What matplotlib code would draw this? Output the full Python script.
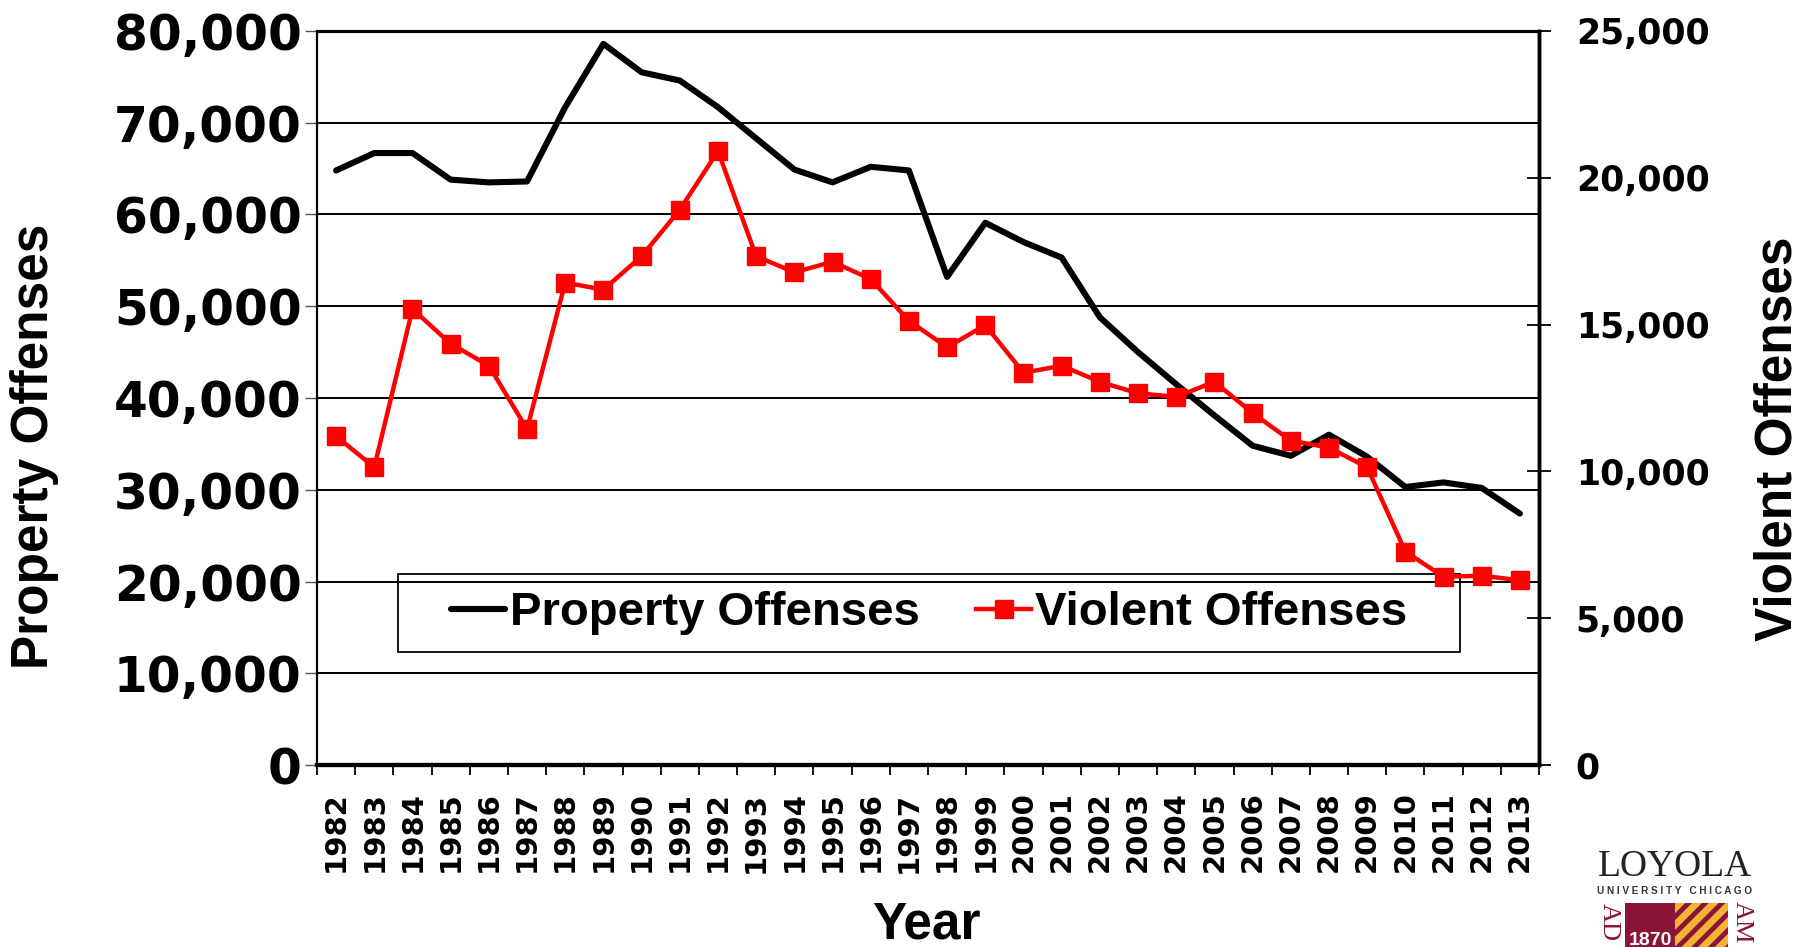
import numpy as np
import matplotlib
matplotlib.use('Agg')
import matplotlib.pyplot as plt
from matplotlib.patches import Rectangle

# data
years = [str(y) for y in range(1982, 2014)]
property_offenses = [64800, 66700, 66700, 63800, 63500, 63600, 71700, 78600,
                     75500, 74600, 71700, 68300, 64900, 63500, 65200, 64800,
                     53200, 59100, 57000, 55300, 48800, 45000, 41500, 38100,
                     34800, 33700, 36000, 33600, 30300, 30800, 30200, 27400]
violent_offenses = [11200, 10140, 15530, 14350, 13600, 11440, 16430, 16190,
                    17330, 18910, 20910, 17330, 16780, 17140, 16550, 15130,
                    14230, 14980, 13360, 13600, 13050, 12660, 12540, 13050,
                    11990, 11050, 10810, 10140, 7270, 6410, 6450, 6290]
left_ticks = list(range(0, 80001, 10000))
right_ticks = list(range(0, 25001, 5000))

W, H = 1810, 947
fig = plt.figure(figsize=(W / 100, H / 100), dpi=100)

ax = fig.add_axes([317 / W, 1 - 765 / H, 1222 / W, 734 / H])
ax2 = ax.twinx()

x = np.arange(len(years))
l1, = ax.plot(x, property_offenses, color='black', lw=4.4,
              solid_joinstyle='round', solid_capstyle='round',
              label='Property Offenses', zorder=3)
l2, = ax2.plot(x, violent_offenses, color='#ff0000', lw=3.2, marker='s',
               markersize=13, label='Violent Offenses', zorder=3)

ax.set_xlim(-0.5, len(years) - 0.5)
ax.set_ylim(0, 80000)
ax2.set_ylim(0, 25000)

tick_font = dict(family='DejaVu Sans', weight='bold')

ax.set_yticks(left_ticks)
ax.set_yticklabels([f'{v:,}' for v in left_ticks], fontsize=35, **tick_font)
ax.tick_params(axis='y', length=9, width=1, color='#555555', pad=2)
ax.grid(axis='y', color='black', lw=1.4)
ax.set_axisbelow(True)

ax.set_xticks(x)
ax.set_xticklabels(years, rotation=90, fontsize=21, **tick_font)
ax.tick_params(axis='x', which='major', length=0, pad=19)
ax.set_xticks(np.arange(-0.5, len(years), 1), minor=True)
ax.tick_params(axis='x', which='minor', length=7, width=1.3, direction='out')

ax2.set_yticks(right_ticks)
ax2.set_yticklabels([f'{v:,}' for v in right_ticks], fontsize=25, **tick_font)
ax2.tick_params(axis='y', direction='inout', length=17, width=1.3, pad=18)

for a in (ax, ax2):
    a.spines['left'].set_linewidth(1.5)
    a.spines['bottom'].set_linewidth(3)
    a.spines['top'].set_linewidth(2.2)
    a.spines['right'].set_linewidth(2.5)

label_font = dict(family='Liberation Sans', weight='bold', fontsize=37)
fig.text(35 / W, 1 - 446 / H, 'Property Offenses', rotation=90,
         ha='center', va='center', **label_font)
fig.text(1778 / W, 1 - 439 / H, 'Violent Offenses', rotation=90,
         ha='center', va='center', **label_font)
fig.text(926 / W, 1 - 938 / H, 'Year', ha='center', va='baseline', **label_font)

# legend box
ax2.add_patch(Rectangle((81 / 1222, 113 / 734), 1062 / 1222, 78 / 734,
                        transform=ax2.transAxes, fill=False, ec='black',
                        lw=1.3, zorder=2))
ax2.legend([l1, l2], ['Property Offenses', 'Violent Offenses'],
           loc='center', bbox_to_anchor=(0.501, 0.207), ncol=2,
           frameon=False, handlelength=1.15, handletextpad=0.1,
           columnspacing=1.2,
           prop=dict(family='Liberation Sans', weight='bold', size=34))

# logo in the corner
plt.rcParams['hatch.linewidth'] = 5
lg = fig.add_axes([0, 0, 1, 1], zorder=5)
lg.set_xlim(0, W)
lg.set_ylim(H, 0)
lg.axis('off')
lg.patch.set_alpha(0)
maroon = '#8a1538'
gold = '#f1b434'
lg.text(1675, 876, 'LOYOLA', family='Liberation Serif', fontsize=27,
        ha='center', va='baseline', color='#222222')
lg.text(1675, 894, 'U N I V E R S I T Y   C H I C A G O',
        family='Liberation Sans', weight='bold', fontsize=7.2,
        ha='center', va='baseline', color='#333333')
lg.add_patch(Rectangle((1625, 903), 50, 50, fc=maroon, ec='none'))
lg.add_patch(Rectangle((1675, 903), 53, 50, fc=maroon, ec=gold,
                       hatch='//', lw=0))
lg.text(1650, 945, '1870', family='Liberation Sans', weight='bold',
        fontsize=14, color='white', ha='center', va='baseline')
lg.text(1609, 922, 'AD', family='Liberation Serif', fontsize=19,
        color=maroon, rotation=-90, ha='center', va='center')
lg.text(1742, 922, 'AM', family='Liberation Serif', fontsize=19,
        color=maroon, rotation=-90, ha='center', va='center')

fig.savefig('out.png', dpi=100)
